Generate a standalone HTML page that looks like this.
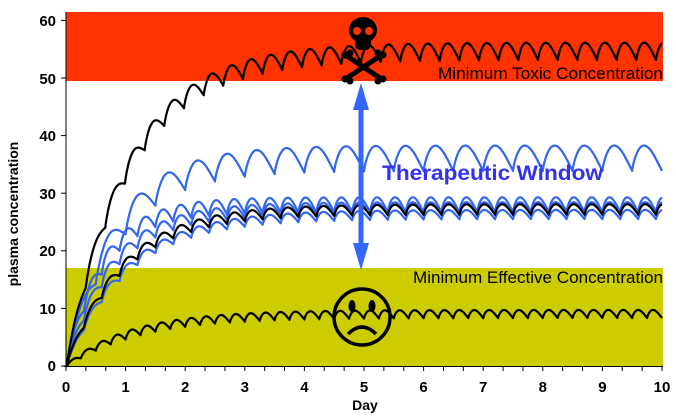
<!DOCTYPE html>
<html><head><meta charset="utf-8"><style>
html,body{margin:0;padding:0;background:#fff;width:676px;height:416px;overflow:hidden}
svg text{font-family:"Liberation Sans",Arial,sans-serif}
</style></head><body>
<svg id="s" width="676" height="416" viewBox="0 0 676 416" xmlns="http://www.w3.org/2000/svg">
<rect x="66" y="12" width="597" height="69" fill="#ff3300"/>
<rect x="66" y="268" width="597" height="98" fill="#cccc00"/>
<g id="curves" fill="none" stroke-width="2.2" stroke-linejoin="round"></g>
<line x1="66" y1="12" x2="66" y2="367" stroke="#000" stroke-width="1"/>
<line x1="64" y1="366.5" x2="663" y2="366.5" stroke="#000" stroke-width="1"/>
<g id="ticks" stroke="#000" stroke-width="1"></g>
<g font-size="15" font-weight="bold" text-anchor="end" fill="#000">
<text x="56" y="371">0</text><text x="56" y="314">10</text><text x="56" y="256">20</text>
<text x="56" y="199">30</text><text x="56" y="141">40</text><text x="56" y="84">50</text><text x="56" y="26">60</text>
</g>
<g id="xl" font-size="15" font-weight="bold" text-anchor="middle" fill="#000"></g>
<text x="365" y="410" font-size="14" font-weight="bold" text-anchor="middle">Day</text>
<text transform="translate(18,214) rotate(-90)" font-size="14" font-weight="bold" text-anchor="middle">plasma concentration</text>
<text x="663" y="79" font-size="16.5" text-anchor="end" fill="#000" textLength="225" lengthAdjust="spacingAndGlyphs">Minimum Toxic Concentration</text>
<text x="663" y="283" font-size="16.5" text-anchor="end" fill="#000" textLength="250" lengthAdjust="spacingAndGlyphs">Minimum Effective Concentration</text>
<text x="382" y="180" font-size="21" font-weight="bold" fill="#3333ee" textLength="221" lengthAdjust="spacingAndGlyphs">Therapeutic Window</text>
<line x1="361" y1="100" x2="361" y2="252" stroke="#3366ff" stroke-width="5"/>
<polygon points="361,83 353,110 369,110" fill="#3366ff"/>
<polygon points="361,270 353,243 369,243" fill="#3366ff"/>
<g id="curvesTop" fill="none" stroke-width="2.2"></g>
<g fill="#000">
<ellipse cx="363" cy="30" rx="14" ry="13"/>
<rect x="355" y="36" width="16" height="14" rx="5"/>
<circle cx="357" cy="31" r="4" fill="#ff3300"/><circle cx="369" cy="31" r="4" fill="#ff3300"/>
<line x1="347" y1="56" x2="380" y2="78" stroke="#000" stroke-width="5" stroke-linecap="round"/>
<line x1="380" y1="56" x2="347" y2="78" stroke="#000" stroke-width="5" stroke-linecap="round"/>
<circle cx="345" cy="55" r="3.5"/><circle cx="350" cy="53" r="3.5"/><circle cx="378" cy="53" r="3.5"/><circle cx="383" cy="55" r="3.5"/>
<circle cx="345" cy="79" r="3.5"/><circle cx="350" cy="81" r="3.5"/><circle cx="378" cy="81" r="3.5"/><circle cx="383" cy="79" r="3.5"/>
</g>
<g fill="none" stroke="#000" stroke-width="3.5">
<circle cx="362" cy="317" r="28"/>
<path d="M348 334 Q362 320 376 334"/>
</g>
<ellipse cx="352" cy="306" rx="3.5" ry="6" fill="#000"/><ellipse cx="372" cy="306" rx="3.5" ry="6" fill="#000"/>
</svg>
<script>
var X=function(d){return 66+d*59.6}, Y=function(c){return 366-c*5.76};
var ns="http://www.w3.org/2000/svg";
function series(mean,tau,k,amp,color){
  var pts=[];
  for(var i=0;i<=2000;i++){var t=i/200;var r=1-Math.exp(-k*t);
    var p=(t/tau)%1;var s=Math.sin(Math.PI*Math.pow(p,0.75))-0.62;
    var c=mean*r+amp*s*Math.min(1,0.4+r);
    if(c<0)c=0;
    pts.push(X(t).toFixed(1)+","+Y(c).toFixed(1));}
  var pl=document.createElementNS(ns,"polyline");pl.setAttribute("points",pts.join(" "));pl.setAttribute("stroke",color);
  document.getElementById("curves").appendChild(pl);
}
series(26.5,0.30,1.0,1.6,"#3366ee");
series(27.6,0.30,1.3,2.2,"#3366ee");
series(28.3,0.30,1.6,2.6,"#3366ee");
series(36.6,0.50,1.2,4.4,"#3366ee");
series(27.4,0.30,1.05,1.8,"#000");
series(55,0.33,0.95,3.0,"#000");
series(9.2,0.25,0.9,1.4,"#000");
var tk=document.getElementById("ticks"),xl=document.getElementById("xl");
for(var i=0;i<=30;i++){var x=X(i/3);var l=document.createElementNS(ns,"line");
 l.setAttribute("x1",x);l.setAttribute("x2",x);l.setAttribute("y1",366);l.setAttribute("y2",371);tk.appendChild(l);}
for(var j=0;j<=6;j++){var y=Y(j*10);var l=document.createElementNS(ns,"line");
 l.setAttribute("x1",61);l.setAttribute("x2",66);l.setAttribute("y1",y);l.setAttribute("y2",y);tk.appendChild(l);}
for(var d=0;d<=10;d++){var t=document.createElementNS(ns,"text");t.setAttribute("x",X(d));t.setAttribute("y",392);t.textContent=d;xl.appendChild(t);}
</script>
</body></html>
